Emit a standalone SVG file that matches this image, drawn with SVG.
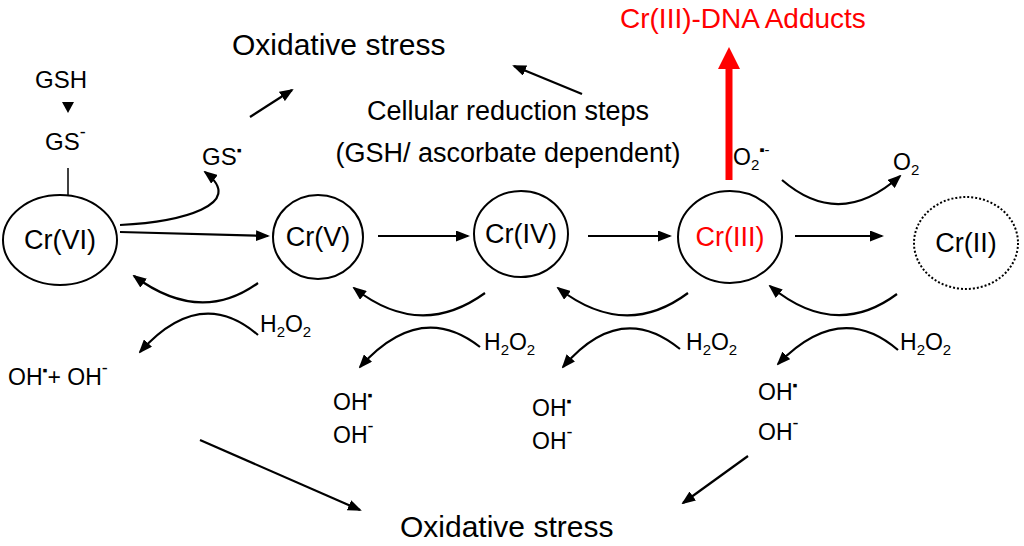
<svg xmlns="http://www.w3.org/2000/svg" width="1024" height="546" viewBox="0 0 1024 546">
<style>
text{font-family:"Liberation Sans",Arial,sans-serif;fill:#000}
.n{fill:#fff;stroke:#000;stroke-width:2}
.c{fill:none;stroke:#000;stroke-width:2.2;marker-end:url(#a)}
.t{font-size:27px}
.s{font-size:23px}
.sub{font-size:15px}
</style>
<defs><marker id="a" markerWidth="14" markerHeight="11" refX="12" refY="5.5" orient="auto" markerUnits="userSpaceOnUse" viewBox="0 0 14 11"><path d="M0,0L14,5.5L0,11z" fill="#000"/></marker>
<marker id="r" markerWidth="22" markerHeight="22" refX="9" refY="11" orient="auto" markerUnits="userSpaceOnUse" viewBox="0 0 22 22"><path d="M0,0L22,11L0,22z" fill="#f00"/></marker></defs>
<g id="connectors">
<path class="c" d="M120,232L268,236"/>
<path class="c" d="M120,225C180,222 248,205 205,172"/>
<line x1="68" y1="168" x2="68" y2="196" stroke="#000" stroke-width="1.5"/>
<path d="M62,102L74,102L68,113z" fill="#000"/>
<path class="c" d="M378,236L468,236"/>
<path class="c" d="M588,236L670,236"/>
<path class="c" d="M795,236L882,236"/>
<path class="c" d="M250,117L292,90"/>
<path class="c" d="M582,94L514,66"/>
<path d="M729,180L729,60" stroke="#f00" stroke-width="7" fill="none" marker-end="url(#r)"/>
<path class="c" d="M782,180Q840,230 900,176"/>
<path class="c" d="M258,283Q200,325 134,276"/>
<path class="c" d="M258,335Q200,285 140,352"/>
<path class="c" d="M485,293Q420,340 354,288"/>
<path class="c" d="M480,347Q420,300 360,367"/>
<path class="c" d="M688,293Q625,340 558,288"/>
<path class="c" d="M680,349Q620,300 563,367"/>
<path class="c" d="M897,294Q835,340 770,286"/>
<path class="c" d="M898,350Q840,300 778,364"/>
<path class="c" d="M200,440L360,510"/>
<path class="c" d="M748,456L683,503"/>
</g>
<g id="crVI"><ellipse class="n" cx="60" cy="240" rx="57" ry="45"/><text class="t" x="60" y="249" text-anchor="middle">Cr(VI)</text></g>
<g id="crV"><ellipse class="n" cx="318" cy="237" rx="45" ry="42"/><text class="t" x="318" y="246" text-anchor="middle">Cr(V)</text></g>
<g id="crIV"><ellipse class="n" cx="521" cy="234" rx="47" ry="43"/><text class="t" x="521" y="243" text-anchor="middle">Cr(IV)</text></g>
<g id="crIII"><ellipse class="n" cx="730" cy="237" rx="52" ry="46"/><text class="t" x="730" y="246" text-anchor="middle" style="fill:#f00">Cr(III)</text></g>
<g id="crII"><ellipse cx="966" cy="243" rx="52" ry="46" fill="#fff" stroke="#000" stroke-width="2" stroke-dasharray="2,2"/><text class="t" x="966" y="252" text-anchor="middle">Cr(II)</text></g>
<g id="labels">
<text x="620" y="28" font-size="28" style="fill:#f00">Cr(III)-DNA Adducts</text>
<text x="232" y="55" font-size="30">Oxidative stress</text>
<text x="400" y="537" font-size="30">Oxidative stress</text>
<text class="t" x="508" y="120" text-anchor="middle">Cellular reduction steps</text>
<text class="t" x="508" y="162" text-anchor="middle">(GSH/ ascorbate dependent)</text>
<text class="s" x="35" y="88" style="font-size:24px">GSH</text>
<text class="s" x="45" y="150" style="font-size:24px">GS<tspan dy="-12" font-size="18">-</tspan></text>
<text class="s" x="202" y="165" style="font-size:24px">GS<tspan dy="-10" font-size="14">▪</tspan></text>
<text class="s" x="733" y="165">O<tspan class="sub" dy="5">2</tspan><tspan dy="-15" font-size="15">▪-</tspan></text>
<text class="s" x="893" y="170">O<tspan class="sub" dy="5">2</tspan></text>
<text class="s" x="260" y="332">H<tspan class="sub" dy="5">2</tspan><tspan dy="-5">O</tspan><tspan class="sub" dy="5">2</tspan></text>
<text class="s" x="484" y="350">H<tspan class="sub" dy="5">2</tspan><tspan dy="-5">O</tspan><tspan class="sub" dy="5">2</tspan></text>
<text class="s" x="686" y="350">H<tspan class="sub" dy="5">2</tspan><tspan dy="-5">O</tspan><tspan class="sub" dy="5">2</tspan></text>
<text class="s" x="900" y="350">H<tspan class="sub" dy="5">2</tspan><tspan dy="-5">O</tspan><tspan class="sub" dy="5">2</tspan></text>
<text class="s" x="8" y="385">OH<tspan dy="-10" font-size="14">▪</tspan><tspan dy="10">+ OH</tspan><tspan dy="-11" font-size="18">-</tspan></text>
<text class="s" x="333" y="410">OH<tspan dy="-10" font-size="14">▪</tspan></text>
<text class="s" x="333" y="443">OH<tspan dy="-11" font-size="18">-</tspan></text>
<text class="s" x="532" y="416">OH<tspan dy="-10" font-size="14">▪</tspan></text>
<text class="s" x="532" y="449">OH<tspan dy="-11" font-size="18">-</tspan></text>
<text class="s" x="758" y="400">OH<tspan dy="-10" font-size="14">▪</tspan></text>
<text class="s" x="758" y="440">OH<tspan dy="-11" font-size="18">-</tspan></text>
</g>
</svg>
